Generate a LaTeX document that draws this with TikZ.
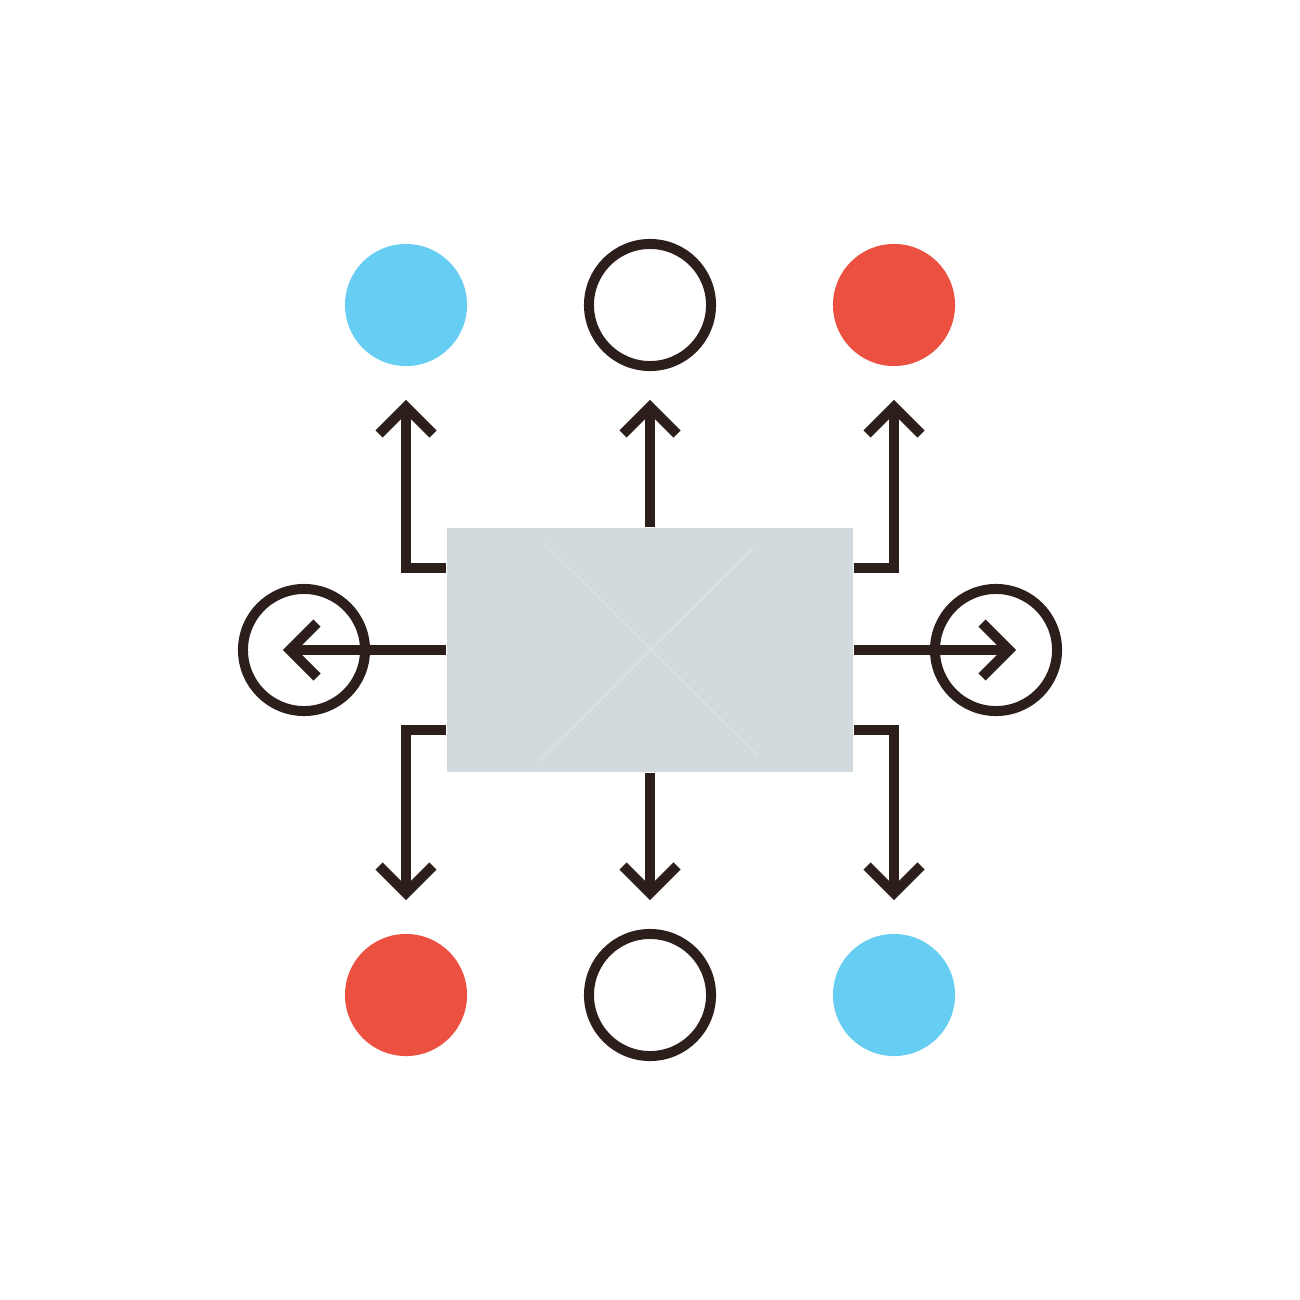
\documentclass[tikz,border=0pt]{standalone}
\usetikzlibrary{calc}
\definecolor{ink}{HTML}{2B1E1B}
\definecolor{boxc}{HTML}{D3DADD}
\definecolor{xc}{HTML}{DEE3E5}
\definecolor{bluec}{HTML}{66CDF3}
\definecolor{redc}{HTML}{EC5040}
\tikzset{
  stem/.style={draw=ink, line width=0.1cm, line join=miter},
  head/.style={draw=ink, line width=0.1cm, line join=miter, miter limit=10},
  dot/.style={circle, inner sep=0pt, minimum size=1.22cm},
  ring/.style={circle, inner sep=0pt, minimum size=1.22cm, draw=ink, line width=0.1cm, fill=white},
  xline/.style={draw=xc, line width=0.35pt}
}
\newcommand\hdup[1]{\draw[head] ($(#1)+(-27,27)$) -- (#1) -- ($(#1)+(27,27)$);}
\newcommand\hddown[1]{\draw[head] ($(#1)+(-27,-27)$) -- (#1) -- ($(#1)+(27,-27)$);}
\newcommand\hdleft[1]{\draw[head] ($(#1)+(27,-27)$) -- (#1) -- ($(#1)+(27,27)$);}
\newcommand\hdright[1]{\draw[head] ($(#1)+(-27,-27)$) -- (#1) -- ($(#1)+(-27,27)$);}
\begin{document}
\begin{tikzpicture}[x=0.01cm,y=-0.01cm]
\useasboundingbox[fill=white] (0,0) rectangle (1300,1300);
% central box
\node[rectangle, fill=boxc, minimum width=4.06cm, minimum height=2.44cm, inner sep=0pt] (box) at (650,650) {};
\draw[xline] (544,543) -- (757,755);
\draw[xline] (753,548) -- (539,761);
% circles
\node[dot, fill=bluec] (c1) at (406,305) {};
\node[ring] (c2) at (650,305) {};
\node[dot, fill=redc] (c3) at (894,305) {};
\node[dot, fill=redc] (c4) at (406,995) {};
\node[ring] (c5) at (650,995) {};
\node[dot, fill=bluec] (c6) at (894,995) {};
\node[ring, fill=none] (cl) at (304,650) {};
\node[ring, fill=none] (cr) at (996,650) {};
% arrow geometry
\coordinate (tlk) at (406,568);
\coordinate (tlt) at (406,407);
\coordinate (tct) at (650,407);
\coordinate (trk) at (894,568);
\coordinate (trt) at (894,407);
\coordinate (blk) at (406,730);
\coordinate (blt) at (406,893);
\coordinate (bct) at (650,893);
\coordinate (brk) at (894,730);
\coordinate (brt) at (894,893);
\coordinate (lt) at (290,650);
\coordinate (rt) at (1009,650);
% top arrows
\draw[stem] (box.west |- tlk) -- (tlk) -- (tlt); \hdup{tlt}
\draw[stem] (box.north) -- (tct); \hdup{tct}
\draw[stem] (box.east |- trk) -- (trk) -- (trt); \hdup{trt}
% bottom arrows
\draw[stem] (box.west |- blk) -- (blk) -- (blt); \hddown{blt}
\draw[stem] (box.south) -- (bct); \hddown{bct}
\draw[stem] (box.east |- brk) -- (brk) -- (brt); \hddown{brt}
% side arrows
\draw[stem] (box.west) -- (lt); \hdleft{lt}
\draw[stem] (box.east) -- (rt); \hdright{rt}
\end{tikzpicture}
\end{document}
